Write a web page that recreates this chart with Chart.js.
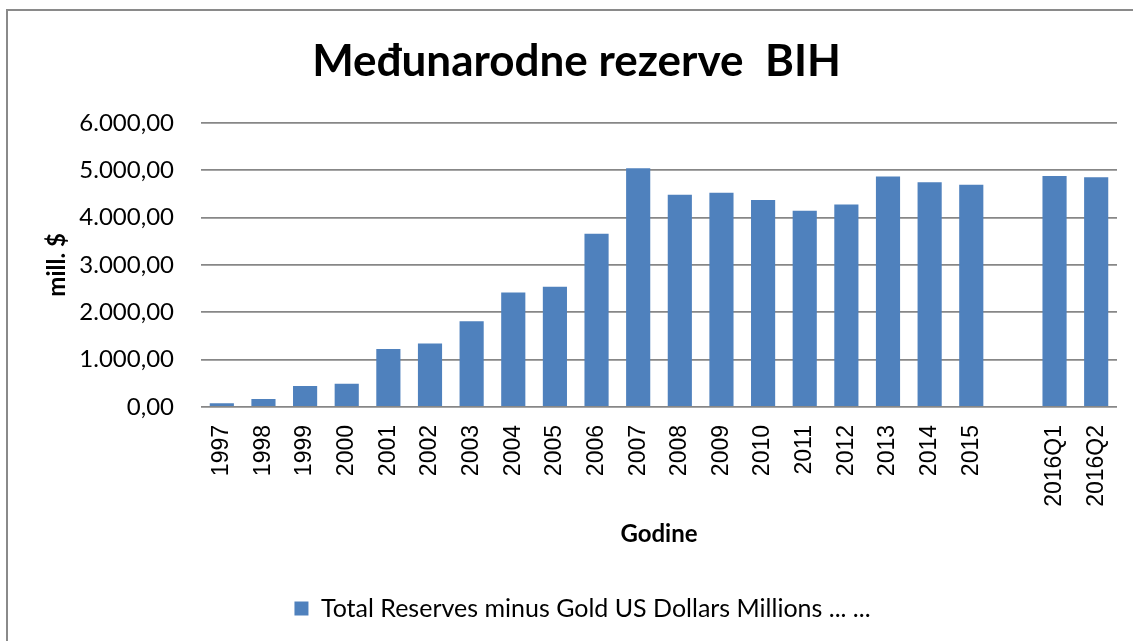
<!DOCTYPE html>
<html>
<head>
<meta charset="utf-8">
<title>Međunarodne rezerve BIH</title>
<script src="https://cdn.jsdelivr.net/npm/chart.js@4/dist/chart.umd.min.js"></script>
<style>
  html, body { margin: 0; padding: 0; background: #fff; }
  #frame {
    position: absolute; left: 6px; top: 9px; width: 1200px; height: 700px;
    border: 2px solid #8a8a8a;
  }
  #wrap { position: absolute; left: 0; top: 0; width: 1133px; height: 641px; }
</style>
</head>
<body>
<div id="frame"></div>
<div id="wrap"><canvas id="chart" width="1133" height="641"></canvas></div>
<script>
// categories (the empty one is the gap Excel leaves before 2016)
const years = ["1997", "1998", "1999", "2000", "2001", "2002", "2003", "2004", "2005", "2006",
  "2007", "2008", "2009", "2010", "2011", "2012", "2013", "2014", "2015", "", "2016Q1", "2016Q2"];
// Total Reserves minus Gold, US Dollars Millions
const reserves = [78, 168, 442, 491, 1227, 1339, 1808, 2418, 2537, 3659,
  5040, 4480, 4522, 4368, 4143, 4276, 4865, 4746, 4690, null, 4879, 4851];
const yTicks = [0, 1000, 2000, 3000, 4000, 5000, 6000];

const seriesLabel = "Total Reserves minus Gold US Dollars Millions ... ...";

function fmt(v) {
  const s = Math.round(v).toString().replace(/\B(?=(\d{3})+(?!\d))/g, ".");
  return s + ",00";
}

// Excel centres title/legend a bit right of the canvas middle
const shiftBoxes = {
  id: "shiftBoxes",
  afterLayout(chart) {
    if (chart.legend) { chart.legend.left += 9; chart.legend.right += 9; }
    if (chart.titleBlock) { chart.titleBlock.left += 3; chart.titleBlock.right += 3; }
  }
};

const PAD_LEFT = 30;

new Chart(document.getElementById("chart"), {
  type: "bar",
  data: {
    labels: years,
    datasets: [{
      label: seriesLabel,
      data: reserves,
      backgroundColor: "#4F81BD",
      borderWidth: 0,
      categoryPercentage: 1,
      barPercentage: 0.58
    }]
  },
  options: {
    responsive: false,
    animation: false,
    layout: { padding: { left: PAD_LEFT, right: 16, top: 10, bottom: 10 } },
    plugins: {
      title: {
        display: true,
        text: "Međunarodne rezerve  BIH",
        color: "#000",
        font: { family: "Lato", size: 44, weight: "bold", lineHeight: 1.2 },
        padding: { top: 25, bottom: 35 }
      },
      legend: {
        position: "bottom",
        labels: {
          color: "#000",
          boxWidth: 14,
          boxHeight: 14,
          padding: 10,
          font: { family: "Lato", size: 25 }
        }
      },
      tooltip: { enabled: false }
    },
    scales: {
      x: {
        grid: { display: false, drawTicks: false },
        border: { display: false },
        afterFit(scale) {
          scale.height = 179;
          scale.paddingLeft = 0;
          scale.paddingRight = 0;
        },
        ticks: {
          autoSkip: false,
          minRotation: 90,
          maxRotation: 90,
          padding: 18,
          color: "#000",
          font: { family: "Liberation Sans", size: 23 }
        },
        title: {
          display: true,
          text: "Godine",
          color: "#000",
          font: { family: "Lato", size: 24, weight: "bold", lineHeight: 1.2 },
          padding: { top: 10, bottom: 37 }
        }
      },
      y: {
        min: 0,
        max: 6000,
        afterBuildTicks(scale) { scale.ticks = yTicks.map(v => ({ value: v })); },
        afterFit(scale) { scale.width = 201 - PAD_LEFT; },
        grid: { color: "#878787", lineWidth: 1.8, drawTicks: false },
        border: { display: false },
        ticks: {
          padding: 27,
          color: "#000",
          font: { family: "Lato", size: 24 },
          callback: v => fmt(v)
        },
        title: {
          display: true,
          text: "mill. $",
          color: "#000",
          font: { family: "Lato", size: 24, weight: "bold", lineHeight: 1.2 },
          padding: { top: 13, bottom: 0 }
        }
      }
    }
  },
  plugins: [shiftBoxes]
});
</script>
</body>
</html>
